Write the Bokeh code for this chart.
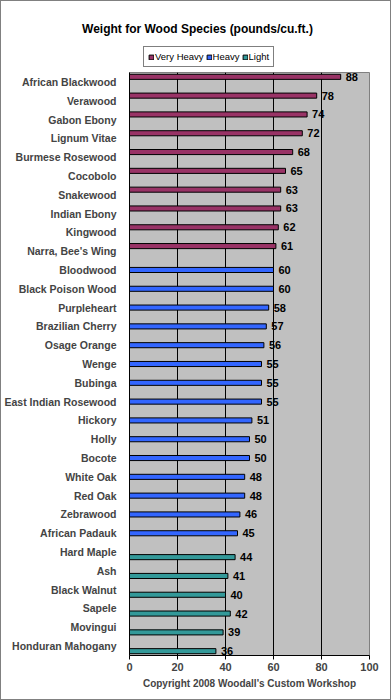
from bokeh.plotting import figure
from bokeh.layouts import column
from bokeh.models import Range1d, FactorRange, Legend, LegendItem, ColumnDataSource, FixedTicker, Label
from bokeh.transform import dodge
from bokeh.core.properties import value
from bokeh.embed import file_html
from bokeh.resources import INLINE

very_heavy_names = ["African Blackwood", "Verawood", "Gabon Ebony", "Lignum Vitae",
                    "Burmese Rosewood", "Cocobolo", "Snakewood", "Indian Ebony",
                    "Kingwood", "Narra, Bee's Wing"]
very_heavy_values = [88, 78, 74, 72, 68, 65, 63, 63, 62, 61]

heavy_names = ["Bloodwood", "Black Poison Wood", "Purpleheart", "Brazilian Cherry",
               "Osage Orange", "Wenge", "Bubinga", "East Indian Rosewood", "Hickory",
               "Holly", "Bocote", "White Oak", "Red Oak", "Zebrawood", "African Padauk"]
heavy_values = [60, 60, 58, 57, 56, 55, 55, 55, 51, 50, 50, 48, 48, 46, 45]

light_names = ["Hard Maple", "Ash", "Black Walnut", "Sapele", "Movingui", "Honduran Mahogany"]
light_values = [44, 41, 40, 42, 39, 36]

x_ticks = [0, 20, 40, 60, 80, 100]
series_names = ["Very Heavy", "Heavy", "Light"]
series_colors = ["#993366", "#3366FF", "#339999"]

series = [
    (series_names[0], very_heavy_names, very_heavy_values, series_colors[0], 0.27),
    (series_names[1], heavy_names, heavy_values, series_colors[1], 0.0),
    (series_names[2], light_names, light_values, series_colors[2], -0.27),
]

categories = very_heavy_names + heavy_names + light_names
FONT = "Liberation Sans"
W = 389
TOTAL_H = 698
HEAD_H = 68

# ---- header: title + legend ----
head = figure(width=W, height=HEAD_H, x_range=Range1d(0, W), y_range=Range1d(0, HEAD_H),
              output_backend="svg", toolbar_location=None,
              x_axis_location=None, y_axis_location=None,
              min_border_left=0, min_border_right=0, min_border_top=0, min_border_bottom=0)
head.frame_align = False
head.outline_line_color = None
head.xgrid.visible = False
head.ygrid.visible = False
head.background_fill_color = "white"
head.border_fill_color = "white"

head.add_layout(Label(x=196, y=41, text="Weight for Wood Species (pounds/cu.ft.)",
                      text_font=FONT, text_font_size="12px", text_font_style="bold",
                      text_baseline="middle", text_align="center", text_color="black"))

nan = float("nan")
items = []
for name, color in zip(series_names, series_colors):
    r = head.hbar(y=[nan], left=[nan], right=[nan], height=1, fill_color=color,
                  line_color="black", line_width=1)
    items.append(LegendItem(label=name, renderers=[r]))

legend = Legend(items=items, orientation="horizontal", location=(142, 2),
                label_text_font=FONT, label_text_font_size="9.5px", label_text_color="black",
                glyph_width=6, glyph_height=6, label_standoff=1, spacing=2,
                padding=4, margin=0, border_line_color="black", border_line_width=1,
                label_height=11, label_width=10,
                background_fill_color="white", background_fill_alpha=1)
head.add_layout(legend, "center")

# ---- main chart ----
p = figure(width=W, height=TOTAL_H - HEAD_H,
           y_range=FactorRange(factors=categories[::-1], range_padding=0),
           x_range=Range1d(0, 100),
           output_backend="svg", toolbar_location=None,
           min_border_left=126, min_border_right=21, min_border_top=3, min_border_bottom=44)
p.frame_align = False
p.background_fill_color = "#C0C0C0"
p.border_fill_color = "white"
p.outline_line_color = "#808080"

for name, names, vals, color, off in series:
    src = ColumnDataSource(dict(name=names, val=vals, lab=[str(v) for v in vals]))
    p.hbar(y=dodge("name", off, range=p.y_range), left=0, right="val", height=0.27,
           source=src, fill_color=color, line_color="black", line_width=1)
    p.text(x="val", y=dodge("name", off, range=p.y_range), text="lab", source=src,
           x_offset=5, text_baseline="middle", text_align="left",
           text_font=value(FONT), text_font_size="11px", text_font_style="bold",
           text_color="black")

p.xgrid.ticker = FixedTicker(ticks=x_ticks)
p.xgrid.grid_line_color = "black"
p.xgrid.grid_line_width = 1
p.ygrid.grid_line_color = None

p.xaxis.ticker = FixedTicker(ticks=x_ticks)
p.xaxis.axis_label = "Copyright 2008 Woodall's Custom Workshop"
p.xaxis.axis_label_text_font = FONT
p.xaxis.axis_label_text_font_size = "10px"
p.xaxis.axis_label_text_font_style = "bold"
p.xaxis.axis_label_standoff = 4
p.xaxis.major_label_text_font = FONT
p.xaxis.major_label_text_font_size = "11px"
p.xaxis.major_label_text_font_style = "bold"
p.xaxis.major_label_standoff = 3
p.xaxis.major_tick_in = 0
p.xaxis.major_tick_out = 4
p.xaxis.minor_tick_line_color = None
p.xaxis.axis_line_color = "black"

p.yaxis.major_label_text_font = FONT
p.yaxis.major_label_text_font_size = "10.5px"
p.yaxis.major_label_text_font_style = "bold"
p.yaxis.major_label_standoff = 7
p.yaxis.major_tick_line_color = None
p.yaxis.axis_line_color = "black"

layout = column(head, p, spacing=0, styles={"border": "1px solid #808080"})

open("out.html", "w").write(file_html(layout, INLINE))
